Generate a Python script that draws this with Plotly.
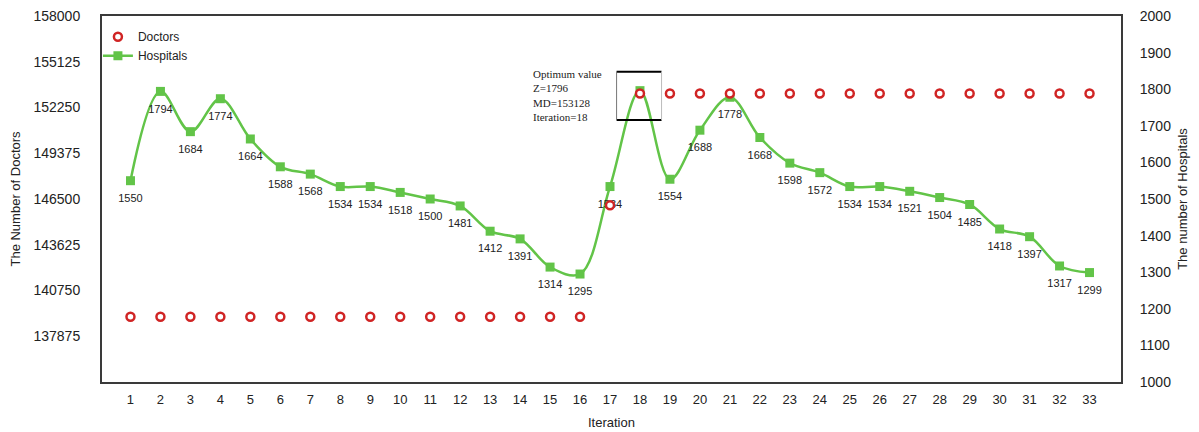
import plotly.graph_objects as go

iterations = list(range(1, 34))
doctors = [139100] * 16 + [146100] + [153128] * 16
hospitals = [1550, 1794, 1684, 1774, 1664, 1588, 1568, 1534, 1534, 1518,
             1500, 1481, 1412, 1391, 1314, 1295, 1534, 1796, 1554, 1688,
             1778, 1668, 1598, 1572, 1534, 1534, 1521, 1504, 1485, 1418,
             1397, 1317, 1299]
optimum_iteration = 18
left_ticks = [137875, 140750, 143625, 146500, 149375, 152250, 155125, 158000]
opt_text = "Optimum value<br>Z=1796<br>MD=153128<br>Iteration=18"

GREEN = "#62c448"
RED = "#d02424"
FRAME = "#3a3a3a"
FONT = "Liberation Sans"

labels = ["" if it == optimum_iteration else str(v)
          for it, v in zip(iterations, hospitals)]

fig = go.Figure()
fig.add_trace(go.Scatter(
    x=iterations, y=hospitals, name="Hospitals", yaxis="y2",
    mode="lines+markers",
    line=dict(color=GREEN, width=2.5, shape="spline", smoothing=1.0),
    marker=dict(symbol="square", size=9, color=GREEN,
                line=dict(width=0)),
    legendrank=2,
))
# value labels (transparent markers give a little extra offset below points)
fig.add_trace(go.Scatter(
    x=iterations, y=hospitals, yaxis="y2", mode="markers+text",
    text=labels, textposition="bottom center",
    textfont=dict(family=FONT, size=11, color="#222222"),
    marker=dict(size=19, color="rgba(0,0,0,0)"),
    showlegend=False, hoverinfo="skip",
))
fig.add_trace(go.Scatter(
    x=iterations, y=doctors, name="Doctors", yaxis="y",
    mode="markers",
    marker=dict(symbol="circle", size=8, color="white",
                line=dict(color=RED, width=2.5)),
    legendrank=1,
))

# optimum box
bx0, bx1, by0, by1 = 17.22, 18.72, 1716, 1848
fig.add_shape(type="line", xref="x", yref="y2", x0=bx0, x1=bx1, y0=by1, y1=by1,
              line=dict(color="black", width=2))
fig.add_shape(type="line", xref="x", yref="y2", x0=bx0, x1=bx1, y0=by0, y1=by0,
              line=dict(color="black", width=2))
fig.add_shape(type="line", xref="x", yref="y2", x0=bx0, x1=bx0, y0=by0, y1=by1,
              line=dict(color="#777777", width=1))
fig.add_shape(type="line", xref="x", yref="y2", x0=bx1, x1=bx1, y0=by0, y1=by1,
              line=dict(color="#bbbbbb", width=1))
fig.add_annotation(xref="x", yref="y2", x=14.38, y=1782, text=opt_text,
                   showarrow=False, xanchor="left", yanchor="middle", align="left",
                   font=dict(family="Liberation Serif", size=11, color="#222222"))

fig.update_layout(
    width=1199, height=432,
    margin=dict(l=102, r=78, t=16, b=50, autoexpand=False),
    plot_bgcolor="white", paper_bgcolor="white",
    font=dict(family=FONT, size=13, color="#222222"),
    showlegend=True,
    legend=dict(x=-0.004, y=0.983, xanchor="left", yanchor="top",
                bgcolor="rgba(0,0,0,0)", font=dict(size=12, family=FONT),
                itemwidth=30, tracegroupgap=0),
    xaxis=dict(range=[0.05, 34.05], tickvals=iterations,
               ticks="outside", ticklen=4, tickcolor="rgba(0,0,0,0)",
               showgrid=False, zeroline=False,
               showline=True, linecolor=FRAME, linewidth=2, mirror=True,
               tickfont=dict(size=13),
               title=dict(text="Iteration", font=dict(size=13), standoff=12)),
    yaxis2=dict(range=[1000, 2000], dtick=100, side="right", anchor="x",
                ticks="outside", ticklen=14, tickcolor="rgba(0,0,0,0)",
                showgrid=False, zeroline=False,
                showline=True, linecolor=FRAME, linewidth=2,
                tickfont=dict(size=14),
                title=dict(text="The number of Hospitals", font=dict(size=13), standoff=8)),
    yaxis=dict(range=[135000, 158000], tickvals=left_ticks,
               ticktext=[str(v) for v in left_ticks], side="left",
               overlaying="y2", anchor="x",
               ticks="outside", ticklen=17, tickcolor="rgba(0,0,0,0)",
               showgrid=False, zeroline=False,
               showline=True, linecolor=FRAME, linewidth=2,
               tickfont=dict(size=14),
               title=dict(text="The Number of Doctors", font=dict(size=13), standoff=10)),
)

fig.write_html("out.html")
